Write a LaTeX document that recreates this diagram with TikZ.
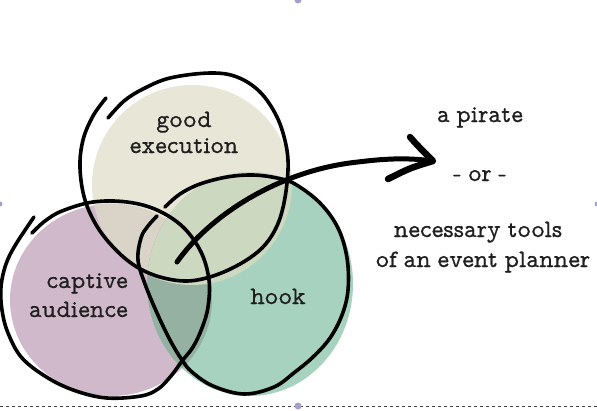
\documentclass[tikz,border=0pt]{standalone}
\usepackage{fontspec}
\newfontfamily\tw[FakeBold=0.6, WordSpace=0.75]{Latin Modern Mono Prop}
\definecolor{beige}{HTML}{E8E6D6}
\definecolor{lilac}{HTML}{D1B9CC}
\definecolor{mint}{HTML}{A7D2BF}
\definecolor{bpmix}{HTML}{D9D3C8}
\definecolor{pgmix}{HTML}{94B1A1}
\definecolor{bgmix}{HTML}{CCD8C0}
\definecolor{handle}{HTML}{A3A0CC}
\begin{document}
\begin{tikzpicture}[x=1pt,y=-1pt,
  outline/.style={line width=3.6pt, line cap=round, line join=round},
  lbl/.style={font=\tw\fontsize{25}{30}\selectfont, text=black!88, inner sep=0pt}]
\useasboundingbox (0,0) rectangle (597,410);
\fill[white] (0,0) rectangle (597,410);
% fills
\fill[beige] (192,185) ellipse [x radius=100, y radius=100];
\fill[lilac] (111,300) ellipse [x radius=101, y radius=96];
\fill[mint] (250,284) ellipse [x radius=103, y radius=112];
\begin{scope}
  \clip (192,185) ellipse [x radius=100, y radius=100];
  \fill[bpmix] (111,300) ellipse [x radius=101, y radius=96];
\end{scope}
\begin{scope}
  \clip (111,300) ellipse [x radius=101, y radius=96];
  \fill[pgmix] (250,284) ellipse [x radius=103, y radius=112];
\end{scope}
\begin{scope}
  \clip (192,185) ellipse [x radius=100, y radius=100];
  \fill[bgmix] (250,284) ellipse [x radius=103, y radius=112];
\end{scope}
% outlines
\draw[outline] plot[smooth, tension=0.6] coordinates {(108,118) (124,101) (143,89) (170,78) (210,73) (237,77) (260,92) (277,117) (286,145) (288,170) (284,203) (276,228) (262,248) (240,264) (213,276) (187,281) (160,277) (137,267) (117,251) (98,228) (85,200) (80,168) (83,140) (93,116) (106,98)};
\draw[outline] plot[smooth, tension=0.6] coordinates {(32,233) (45,221) (62,211) (93,202) (127,202) (157,210) (183,227) (201,252) (209,280) (208,307) (202,328) (193,347) (182,361) (171,376) (158,389) (141,396) (107,398) (76,391) (48,378) (22,358) (8,333) (2,310) (1,287) (6,264) (16,244) (34,217)};
\draw[outline] plot[smooth, tension=0.6] coordinates {(165,207) (180,194) (200,184) (227,177) (253,175) (277,178) (295,184) (320,203) (338,228) (347,258) (348,290) (342,315) (330,338) (313,357) (295,372) (274,387) (244,394) (213,386) (192,372) (182,360) (170,340) (157,313) (145,284) (138,260) (141,238) (148,226) (157,216)};
% arrow
\coordinate (a0) at (177,262);
\coordinate (a1) at (433,161);
\coordinate (b1) at (410,137);
\coordinate (b2) at (388,179);
\draw[line width=5pt, line cap=round] (a0) .. controls (210,215) and (280,170) .. (358,162) .. controls (390,158) and (410,158) .. (a1);
\draw[line width=6.5pt, line cap=round, line join=round] (b1) .. controls (418,146) .. (a1) .. controls (410,168) .. (b2);
% labels
\node[lbl, anchor=base] (good) at (184,127) {good};
\node[lbl, anchor=base] (exec) at (184,153) {execution};
\node[lbl, anchor=base east] (capt) at (128,288) {captive};
\node[lbl, anchor=base east] (aud) at (128,317) {audience};
\node[lbl, anchor=base] (hook) at (278,304) {hook};
\node[lbl, anchor=base] (pir) at (480,122) {a pirate};
\node[lbl, anchor=base] (or) at (480,181) {- or -};
\node[lbl, anchor=base] (nec) at (478,237) {necessary tools};
\node[lbl, anchor=base] (evp) at (483,267) {of an event planner};
% frame marks
\draw[black!75, line width=0.8pt, dash pattern=on 3pt off 3pt] (0,406) -- (597,406);
\fill[handle] (298,406) circle [radius=3.5];
\fill[handle] (298,0) circle [radius=3.5];
\fill[handle] (0,204) circle [radius=2.5];
\fill[handle] (597,204) circle [radius=2.5];
\end{tikzpicture}
\end{document}
